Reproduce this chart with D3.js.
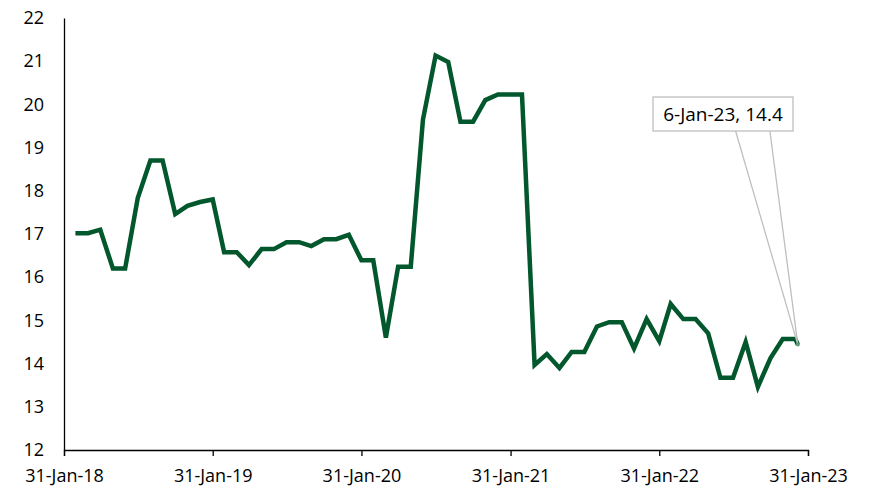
<!DOCTYPE html>
<meta charset="utf-8">
<style>
  body { margin: 0; background: #fff; }
  svg text { font-family: "Open Sans", "Noto Sans", sans-serif; fill: #000; }
  .axis path, .axis line { stroke: #000; stroke-width: 1.3; }
</style>
<body>
<div id="chart"></div>
<script src="https://cdn.jsdelivr.net/npm/d3@7"></script>
<script>
const dates = [
  "2018-02-28","2018-03-31","2018-04-30","2018-05-31","2018-06-30","2018-07-31",
  "2018-08-31","2018-09-30","2018-10-31","2018-11-30","2018-12-31","2019-01-31",
  "2019-02-28","2019-03-31","2019-04-30","2019-05-31","2019-06-30","2019-07-31",
  "2019-08-31","2019-09-30","2019-10-31","2019-11-30","2019-12-31","2020-01-31",
  "2020-02-29","2020-03-31","2020-04-30","2020-05-31","2020-06-30","2020-07-31",
  "2020-08-31","2020-09-30","2020-10-31","2020-11-30","2020-12-31","2021-01-31",
  "2021-02-28","2021-03-31","2021-04-30","2021-05-31","2021-06-30","2021-07-31",
  "2021-08-31","2021-09-30","2021-10-31","2021-11-30","2021-12-31","2022-01-31",
  "2022-02-28","2022-03-31","2022-04-30","2022-05-31","2022-06-30","2022-07-31",
  "2022-08-31","2022-09-30","2022-10-31","2022-11-30","2022-12-31","2023-01-06"
];
const values = [
  17.02, 17.02, 17.1, 16.2, 16.2, 17.83, 18.7, 18.7, 17.46, 17.65, 17.74, 17.8,
  16.58, 16.58, 16.28, 16.65, 16.65, 16.81, 16.81, 16.72, 16.88, 16.88, 16.98, 16.39,
  16.39, 14.6, 16.24, 16.24, 19.65, 21.13, 20.98, 19.6, 19.6, 20.1, 20.23, 20.23,
  20.23, 13.97, 14.22, 13.9, 14.27, 14.27, 14.86, 14.96, 14.96, 14.35, 15.03, 14.52,
  15.38, 15.03, 15.03, 14.7, 13.67, 13.67, 14.5, 13.46, 14.13, 14.57, 14.57, 14.44
];
const xTicks = ["2018-01-31","2019-01-31","2020-01-31","2021-01-31","2022-01-31","2023-01-31"];
const yTicks = [12, 13, 14, 15, 16, 17, 18, 19, 20, 21, 22];
const annotationText = "6-Jan-23, 14.4";

const width = 871, height = 491;
const margin = { top: 18, right: 63, bottom: 41, left: 64 };
const parse = d3.timeParse("%Y-%m-%d");
const fmt = d3.timeFormat("%-d-%b-%y");

const data = dates.map((d, i) => ({ date: parse(d), value: values[i] }));

const svg = d3.select("#chart").append("svg")
  .attr("width", width)
  .attr("height", height);

const x = d3.scaleTime()
  .domain([parse(xTicks[0]), parse(xTicks[xTicks.length - 1])])
  .range([margin.left, width - margin.right]);

const y = d3.scaleLinear()
  .domain([12, 22])
  .range([height - margin.bottom, margin.top]);

// x axis
const xAxis = svg.append("g")
  .attr("class", "axis")
  .attr("transform", `translate(0,${height - margin.bottom})`)
  .call(d3.axisBottom(x)
    .tickValues(xTicks.map(parse))
    .tickFormat(fmt)
    .tickSizeOuter(0)
    .tickSize(6)
    .tickPadding(13));
xAxis.selectAll("text").style("font-size", "18px");

// y axis
const yAxis = svg.append("g")
  .attr("class", "axis")
  .attr("transform", `translate(${margin.left},0)`)
  .call(d3.axisLeft(y)
    .tickValues(yTicks)
    .tickSize(0)
    .tickSizeOuter(0)
    .tickPadding(20));
yAxis.selectAll("text").style("font-size", "18px");

// line
const line = d3.line()
  .x(d => x(d.date))
  .y(d => y(d.value));

svg.append("path")
  .datum(data)
  .attr("fill", "none")
  .attr("stroke", "#02572c")
  .attr("stroke-width", 4.5)
  .attr("stroke-linejoin", "miter")
  .attr("d", line);

// annotation for last point
const last = data[data.length - 1];
const px = x(last.date), py = y(last.value);
const boxX = 653, boxY = 97, boxW = 140, boxH = 34;

svg.append("path")
  .attr("fill", "none")
  .attr("stroke", "#bfbfbf")
  .attr("stroke-width", 1.3)
  .attr("d", `M${boxX + boxW * 0.59},${boxY + boxH} L${px},${py} L${boxX + boxW * 0.835},${boxY + boxH}`);

svg.append("rect")
  .attr("x", boxX)
  .attr("y", boxY)
  .attr("width", boxW)
  .attr("height", boxH)
  .attr("fill", "#fff")
  .attr("stroke", "#bfbfbf")
  .attr("stroke-width", 1.3);

svg.append("text")
  .attr("x", boxX + boxW / 2)
  .attr("y", boxY + boxH / 2)
  .attr("text-anchor", "middle")
  .attr("dominant-baseline", "central")
  .style("font-size", "19px")
  .text(annotationText);

svg.append("circle")
  .attr("cx", px)
  .attr("cy", py)
  .attr("r", 2)
  .attr("fill", "#5a9a78");
</script>
</body>
</html>
